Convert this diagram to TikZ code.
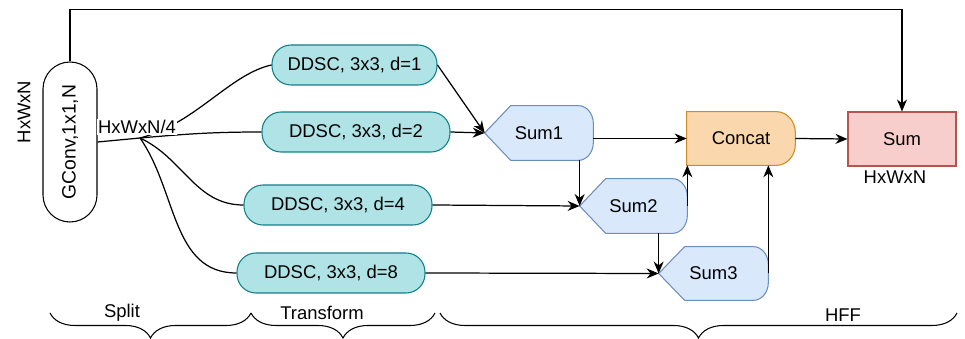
\documentclass[tikz,border=0pt]{standalone}
\usepackage{fontspec}
\setmainfont{Liberation Sans}
\usepackage{tikz}
\usetikzlibrary{arrows.meta,positioning,calc,backgrounds,decorations.pathreplacing}
\definecolor{ddscfill}{HTML}{B0E3E6}
\definecolor{ddscline}{HTML}{0E8088}
\definecolor{sumfill}{HTML}{DAE8FC}
\definecolor{sumline}{HTML}{6C8EBF}
\definecolor{catfill}{HTML}{FAD7AC}
\definecolor{catline}{HTML}{D08A2A}
\definecolor{redfill}{HTML}{F8CECC}
\definecolor{redline}{HTML}{B85450}

% outline of a Sum block: pointed on the left, rounded on the right
\newcommand{\sumoutline}[1]{%
  \path[sumedge] (#1.west) -- ([xshift=0.52cm]#1.north west) -- ([xshift=-0.3cm]#1.north east)
    arc[start angle=90, end angle=0, x radius=0.3cm, y radius=0.36cm]
    -- ([yshift=0.36cm]#1.south east)
    arc[start angle=0, end angle=-90, x radius=0.3cm, y radius=0.36cm]
    -- ([xshift=0.52cm]#1.south west) -- cycle;}

\begin{document}
\begin{tikzpicture}[
    font=\fontsize{10.5}{12}\selectfont,
    pill/.style={rectangle, rounded corners=0.38cm, draw=ddscline, fill=ddscfill, line width=0.6pt, minimum height=0.8cm, minimum width=3.76cm, inner sep=2pt},
    gconv/.style={rectangle, rounded corners=0.54cm, draw=black, line width=0.6pt, minimum width=1.08cm, minimum height=3.2cm, inner sep=0pt},
    sumbox/.style={rectangle, minimum width=2.16cm, minimum height=1.08cm, inner sep=0pt},
    sumedge/.style={draw=sumline, fill=sumfill, line width=0.6pt},
    wire/.style={line width=0.7pt},
    arr/.style={-{Stealth[length=2.4mm, width=2mm]}, line width=0.7pt},
    brc/.style={decorate, decoration={brace, mirror, amplitude=0.5cm}, line width=0.6pt}
]
    \useasboundingbox (0,0) rectangle (19.30,6.78);

    % Split
    \node (dimin) [rotate=90] at (0.48,4.54) {HxWxN};
    \node (gconv) [gconv] at (1.40,3.94) {\rotatebox{90}{\fontsize{11}{13}\selectfont GConv,1x1,N}};
    \coordinate (split) at (2.80,4.02);

    % Transform
    \node (d1) [pill, minimum width=3.30cm] at (7.09,5.48) {DDSC, 3x3, d=1};
    \node (d2) [pill] at (7.12,4.14) {DDSC, 3x3, d=2};
    \node (d4) [pill] at (6.76,2.68) {DDSC, 3x3, d=4};
    \node (d8) [pill] at (6.62,1.32) {DDSC, 3x3, d=8};

    \draw [wire] (gconv.east) -- (split);
    \draw [wire] (split) .. controls (3.9,4.3) and (4.6,5.3) .. (d1.west);
    \draw [wire] (split) to[out=5, in=180] (d2.west);
    \draw [wire] (split) to[out=-25, in=180] (d4.west);
    \draw [wire] (split) to[out=-55, in=180] (d8.west);
    \node (dim4) [fill=white, inner sep=0.5pt] at (2.74,4.24) {HxWxN/4};

    % HFF
    \node (sum1) [sumbox] at (10.78,4.12) {Sum1};
    \node (sum2) [sumbox, minimum width=2.14cm] at (12.67,2.66) {Sum2};
    \node (sum3) [sumbox, minimum width=2.18cm, minimum height=1.06cm] at (14.27,1.31) {Sum3};
    \node (cat) [sumbox, minimum height=1.06cm] at (14.82,4.01) {Concat};
    \node (sum) [rectangle, draw=redline, fill=redfill, line width=0.6pt, minimum width=2.16cm, minimum height=1.08cm] at (18.04,4.00) {Sum};
    \node (dimout) at (17.90,3.24) {HxWxN};

    \begin{scope}[on background layer]
        \sumoutline{sum1}
        \sumoutline{sum2}
        \sumoutline{sum3}
        \path[draw=catline, fill=catfill, line width=0.6pt] (cat.north west) -- ([xshift=-0.38cm]cat.north east)
            arc[start angle=90, end angle=0, x radius=0.38cm, y radius=0.42cm]
            -- ([yshift=0.42cm]cat.south east)
            arc[start angle=0, end angle=-90, x radius=0.38cm, y radius=0.42cm]
            -- (cat.south west) -- cycle;
    \end{scope}

    % Connectors
    \draw [arr] (d1.east) -- (sum1.west);
    \draw [arr] (d2.east) -- (sum1.west);
    \draw [arr] (d4.east) -- (sum2.west);
    \draw [arr] (d8.east) -- (sum3.west);
    \draw [arr] (sum1.south -| sum2.west) -- (sum2.west);
    \draw [arr] (sum2.south -| sum3.west) -- (sum3.west);
    \draw [arr] (sum1.east |- cat.west) -- (cat.west);
    \draw [arr] (sum2.east) -- (sum2.east |- cat.south);
    \draw [arr] (sum3.east) -- (sum3.east |- cat.south);
    \draw [arr] (cat.east) -- (sum.west);
    \draw [arr] (gconv.north) -- ++(0,1.04) -| (sum.north);

    % Stages
    \draw [brc] (1.00,0.52) -- (5.02,0.52);
    \draw [brc] (5.02,0.52) -- (8.70,0.52);
    \draw [brc] (8.80,0.52) -- (19.14,0.52);
    \node (lsplit) at (2.44,0.52) {Split};
    \node (ltrans) at (6.44,0.52) {Transform};
    \node (lhff) at (16.86,0.48) {HFF};
\end{tikzpicture}
\end{document}
